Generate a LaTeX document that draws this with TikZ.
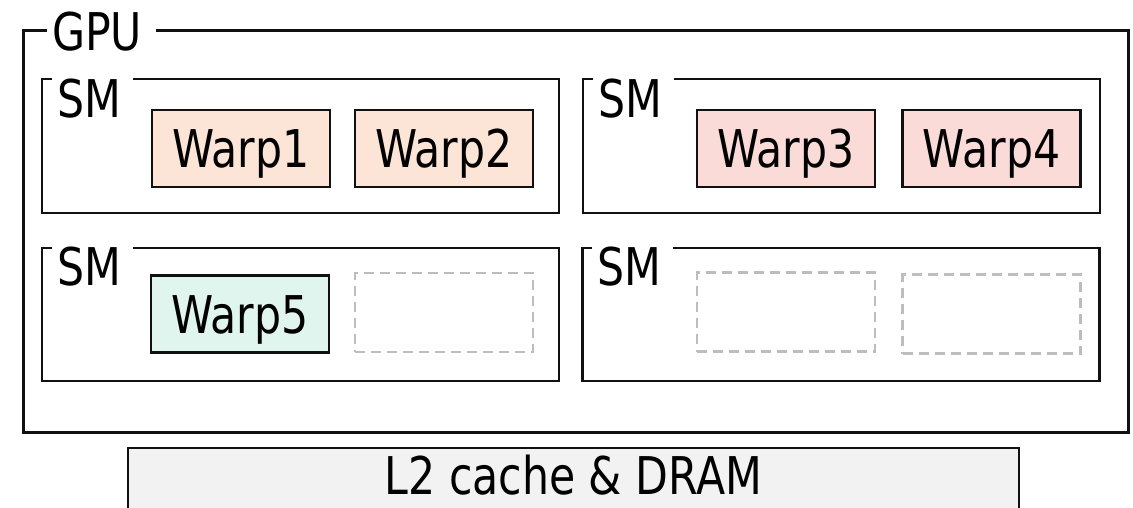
\documentclass[tikz,border=0pt]{standalone}
\usepackage{fontspec}
\setmainfont{DejaVu Sans}[FakeStretch=0.82]
\definecolor{frameblack}{HTML}{111111}
\definecolor{warporange}{HTML}{FCE4D6}
\definecolor{warpred}{HTML}{FADBD8}
\definecolor{warpgreen}{HTML}{DFF5EE}
\definecolor{idlegray}{HTML}{BDBDBD}
\definecolor{memgray}{HTML}{F2F2F2}
\tikzset{
  every node/.style={font=\fontsize{52}{62}\selectfont},
  gpubox/.style={draw=frameblack, line width=2.6pt, rectangle, inner sep=0pt, anchor=north west},
  smbox/.style={draw=frameblack, line width=2.4pt, rectangle, inner sep=0pt,
    minimum width=517pt, minimum height=134pt},
  framelabel/.style={fill=white, inner sep=0pt, anchor=base west, text height=44pt, text depth=0pt},
  warpbox/.style={draw=frameblack, line width=2.2pt, rectangle, inner sep=0pt,
    minimum width=178pt, minimum height=77pt, text height=38pt, text depth=0pt},
  idlebox/.style={draw=idlegray, line width=2.4pt, dash pattern=on 10pt off 6pt, rectangle,
    inner sep=0pt, minimum width=178pt, minimum height=79pt},
  membox/.style={draw=frameblack, fill=memgray, line width=2.4pt, rectangle, anchor=north,
    minimum width=891pt, inner xsep=0pt, inner ysep=8pt, text height=38pt, text depth=40pt},
}
\begin{document}
\begin{tikzpicture}[x=1pt, y=-1pt]
  \useasboundingbox (0,0) rectangle (1133,507);

  % GPU frame and its label sitting on the top edge
  \node[gpubox, minimum width=1105pt, minimum height=402pt] (gpu) at (22,29) {};
  \node[framelabel, text height=42pt] (gpulabel) at (47,50) {\kern5pt GPU\kern14pt};

  % four streaming multiprocessors
  \node[smbox] (sm1) at (300.5,146) {};
  \node[smbox] (sm2) at (841.5,146) {};
  \node[smbox, minimum height=133pt] (sm3) at (300.5,314.5) {};
  \node[smbox, minimum height=133pt] (sm4) at (841,314.5) {};

  \node[framelabel] (sm1label) at (52,117) {\kern5pt SM\kern12pt};
  \node[framelabel] (sm2label) at (593,117) {\kern5pt SM\kern12pt};
  \node[framelabel] (sm3label) at (52,285) {\kern5pt SM\kern12pt};
  \node[framelabel] (sm4label) at (592,285) {\kern5pt SM\kern12pt};

  % resident warps
  \node[warpbox, fill=warporange] (warp1) at (241,148.5) {Warp1};
  \node[warpbox, fill=warporange] (warp2) at (444,148.5) {Warp2};
  \node[warpbox, fill=warpred] (warp3) at (786,148.5) {Warp3};
  \node[warpbox, fill=warpred] (warp4) at (991.5,148.5) {Warp4};
  \node[warpbox, fill=warpgreen] (warp5) at (240,314) {Warp5};

  % idle warp slots
  \node[idlebox] (slot1) at (444,312.5) {};
  \node[idlebox] (slot2) at (786,312) {};
  \node[idlebox] (slot3) at (991.5,314) {};

  % shared memory hierarchy
  \node[membox] (mem) at (573.5,447) {L2 cache \& DRAM};
\end{tikzpicture}
\end{document}
